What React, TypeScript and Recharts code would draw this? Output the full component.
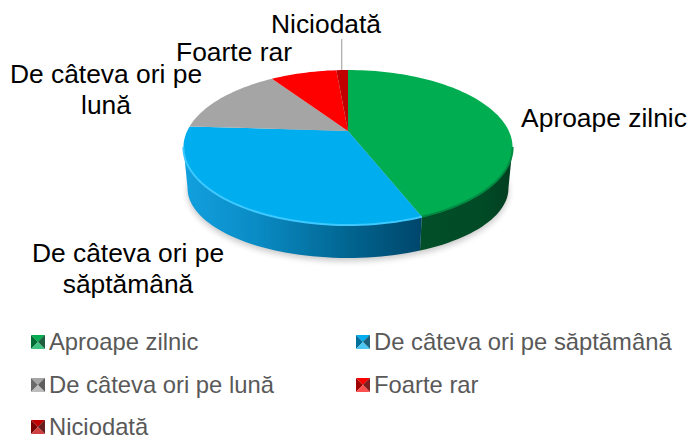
import React from 'react';
import { PieChart, Pie, Legend } from 'recharts';

const categories = ['Aproape zilnic', 'De câteva ori pe săptămână', 'De câteva ori pe lună', 'Foarte rar', 'Niciodată'];
const shares = [44, 32, 14.6, 8, 1.4];
const colors = ['#00ad50', '#00aeef', '#a5a5a5', '#ff0000', '#c00000'];

const data = categories.map((name, i) => ({ name, value: shares[i], fill: colors[i] }));

const FONT = '"Liberation Sans", Arial, sans-serif';
const TILT = 0.213;

// label lines and where they sit, same order as categories
const labelLines = [['Aproape zilnic'], ['De câteva ori pe', 'săptămână'], ['De câteva ori pe', 'lună'], ['Foarte rar'], ['Niciodată']];
const labelSpots = [
  { x: 604, y: 127 },
  { x: 128, y: 262 },
  { x: 106, y: 83 },
  { x: 234, y: 61 },
  { x: 326, y: 33 },
];

// circle -> tilted perspective; theta is clockwise from the top, in degrees
function project(cx: number, cy: number, r: number, theta: number, bottom = false) {
  const t = (theta * Math.PI) / 180;
  const u = Math.sin(t);
  const v = -Math.cos(t);
  const w = 1 - TILT * v;
  const sx = bottom ? 0.975 : 1;
  const sy = bottom ? 0.9 : 1;
  const dy = bottom ? 42.4 : 0;
  return [cx + (sx * r * u) / w, cy + dy + (sy * 0.46 * r * v) / w];
}

function arc(cx: number, cy: number, r: number, from: number, to: number, bottom = false) {
  const pts: number[][] = [];
  const n = Math.max(2, Math.ceil(Math.abs(to - from) / 2));
  for (let i = 0; i <= n; i++) pts.push(project(cx, cy, r, from + ((to - from) * i) / n, bottom));
  return pts;
}

const toPath = (pts: number[][]) => pts.map((p, i) => `${i ? 'L' : 'M'}${p[0].toFixed(2)} ${p[1].toFixed(2)}`).join(' ');

function Slice3D(props: any) {
  const { cx, cy, outerRadius: r, startAngle, endAngle, fill, index } = props;
  const t0 = 90 - startAngle;
  const t1 = 90 - endAngle;
  const top = arc(cx, cy, r, t0, t1);
  const a = Math.max(t0, 102);
  const b = Math.min(t1, 258);
  const hasWall = b > a;
  const front = hasWall ? arc(cx, cy, r, a, b) : [];
  const back = hasWall ? arc(cx, cy, r, b, a, true) : [];
  const id = `wall-${index}`;
  return (
    <g>
      {index === 0 && (
        <g>
          <defs>
            <filter id="soft" x="-20%" y="-20%" width="140%" height="140%">
              <feGaussianBlur stdDeviation="3" />
            </filter>
            <filter id="rim" x="-5%" y="-5%" width="110%" height="110%">
              <feGaussianBlur stdDeviation="0.7" />
            </filter>
          </defs>
          <path d={toPath(arc(cx, cy + 3, r, 0, 360, true)) + ' Z'} fill="#000" opacity={0.22} filter="url(#soft)" />
        </g>
      )}
      {hasWall && (
        <g>
          <defs>
            {index === 0 ? (
              <linearGradient id={id} x1="0" x2="1" y1="0" y2="0">
                <stop offset="0" stopColor="#014f29" />
                <stop offset="0.7" stopColor="#014a26" />
                <stop offset="1" stopColor="#023d20" />
              </linearGradient>
            ) : (
              <linearGradient id={id} x1="0" x2="1" y1="0" y2="0">
                <stop offset="0" stopColor="#12a0df" />
                <stop offset="0.3" stopColor="#0a8cc5" />
                <stop offset="0.7" stopColor="#01648f" />
                <stop offset="1" stopColor="#00466b" />
              </linearGradient>
            )}
          </defs>
          <path d={toPath([...front, ...back]) + ' Z'} fill={`url(#${id})`} />
        </g>
      )}
      <path d={toPath([[cx, cy], ...top]) + ' Z'} fill={fill} />
      {hasWall && (
        <path
          d={toPath(front)}
          fill="none"
          stroke={index === 0 ? '#008a42' : '#3cc8ff'}
          strokeWidth={2}
          filter="url(#rim)"
        />
      )}
    </g>
  );
}

function SliceLabel(props: any) {
  const { index } = props;
  const spot = labelSpots[index];
  const lines = labelLines[index];
  return (
    <g>
      {index === 4 && <line x1={341.7} y1={39} x2={341.7} y2={70} stroke="#b0b0b0" strokeWidth={1.3} />}
      <text x={spot.x} y={spot.y} textAnchor="middle" fontFamily={FONT} fontSize={26.4} fill="#000">
        {lines.map((l, i) => (
          <tspan key={l} x={spot.x} dy={i ? 30.5 : 0}>
            {l}
          </tspan>
        ))}
      </text>
    </g>
  );
}

function LegendIcon({ color, dark, light }: { color: string; dark: string; light: string }) {
  return (
    <svg width={14} height={14} style={{ position: 'absolute', left: 0, top: 0 }}>
      <polygon points="0,0 14,0 7,7" fill={color} />
      <polygon points="0,0 7,7 0,14" fill={dark} />
      <polygon points="14,0 14,14 7,7" fill="#111" opacity={0.75} />
      <polygon points="14,0 14,14 7,7" fill={dark} opacity={0.6} />
      <polygon points="0,14 14,14 7,7" fill={light} />
    </svg>
  );
}

const legendDark = ['#006b32', '#006f9a', '#6a6a6a', '#a00000', '#7a0000'];
const legendLight = ['#3fc17f', '#4cc7f4', '#bdbdbd', '#ff5050', '#cf4040'];

function LegendBlock(props: any) {
  const items = props.payload || [];
  return (
    <div style={{ position: 'relative', width: 689, height: 107 }}>
      {items.map((it: any, i: number) => (
        <div
          key={it.value}
          style={{
            position: 'absolute',
            left: i % 2 ? 356 : 31,
            top: Math.floor(i / 2) * 42.5,
            height: 22,
            whiteSpace: 'nowrap',
          }}
        >
          <div style={{ position: 'absolute', left: 0, top: 5, width: 14, height: 14 }}>
            <LegendIcon color={colors[i]} dark={legendDark[i]} light={legendLight[i]} />
          </div>
          <span
            style={{
              position: 'absolute',
              left: 18,
              top: 2,
              lineHeight: '20px',
              fontFamily: FONT,
              fontSize: 23.8,
              color: '#595959',
            }}
          >
            {it.value}
          </span>
        </div>
      ))}
    </div>
  );
}

export default function App() {
  return (
    <div style={{ position: 'absolute', left: 0, top: 0, width: 689, height: 437, background: '#fff', overflow: 'hidden' }}>
      <PieChart width={689} height={437} margin={{ top: 0, right: 0, bottom: 0, left: 0 }}>
        <Pie
          data={data}
          dataKey="value"
          nameKey="name"
          cx={348}
          cy={131}
          outerRadius={160.8}
          startAngle={90}
          endAngle={-270}
          stroke="none"
          isAnimationActive={false}
          shape={Slice3D}
          activeShape={Slice3D}
          inactiveShape={Slice3D}
          label={SliceLabel}
          labelLine={false}
        />
        <Legend
          content={LegendBlock}
          itemSorter={null}
          wrapperStyle={{ position: 'absolute', left: 0, top: 330, width: 689 }}
        />
      </PieChart>
    </div>
  );
}
